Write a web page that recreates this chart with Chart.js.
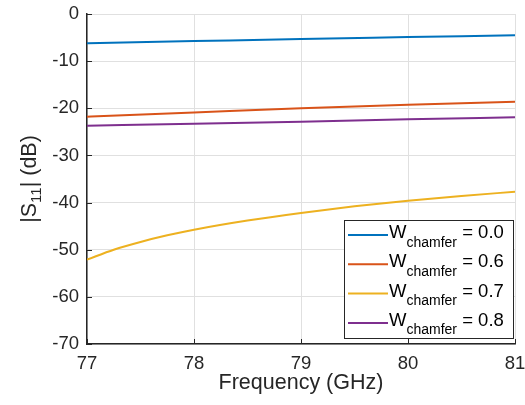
<!DOCTYPE html>
<html>
<head>
    <meta charset="UTF-8">
    <title>S11 vs frequency</title>
    <script src="https://cdn.jsdelivr.net/npm/chart.js"></script>
    <style>
        html, body { margin: 0; padding: 0; background: #fff; }
    </style>
</head>
<body>
<div style="width: 525px; height: 405px;">
    <canvas id="myChart"></canvas>
</div>

<script>
    // frequency points (GHz)
    const freqCoarse = [77, 78, 79, 80, 81];
    const freqFine = [77, 77.25, 77.5, 77.75, 78, 78.5, 79, 79.5, 80, 80.5, 81];

    // |S11| in dB
    const s11_w00 = [-6.2, -5.75, -5.3, -4.9, -4.5];
    const s11_w06 = [-21.8, -20.9, -20.0, -19.25, -18.6];
    const s11_w07 = [-52.1, -50.0, -48.35, -46.95, -45.75, -43.8, -42.2, -40.8, -39.6, -38.6, -37.7];
    const s11_w08 = [-23.7, -23.3, -22.85, -22.35, -21.9];

    const chamferValues = ['0.0', '0.6', '0.7', '0.8'];
    const colors = ['#0072BD', '#D95319', '#EDB120', '#7E2F8E'];

    const xTicks = [77, 78, 79, 80, 81];
    const yTicks = [-70, -60, -50, -40, -30, -20, -10, 0];

    const FONT = "'Liberation Sans', Arial, Helvetica, sans-serif";
    const AXIS = '#262626';

    function pts(xs, ys) {
        return xs.map((x, i) => ({x: x, y: ys[i]}));
    }

    const seriesX = [freqCoarse, freqCoarse, freqFine, freqCoarse];
    const seriesY = [s11_w00, s11_w06, s11_w07, s11_w08];

    const data = {
        datasets: seriesY.map((ys, i) => ({
            label: 'W_chamfer = ' + chamferValues[i],
            data: pts(seriesX[i], ys),
            borderColor: colors[i],
            backgroundColor: colors[i],
            borderWidth: 2,
            pointRadius: 0,
            cubicInterpolationMode: 'monotone',
            fill: false
        }))
    };

    // inward ticks, y title with subscript, MATLAB-like legend
    const overlay = {
        id: 'overlay',
        afterDraw(chart) {
            const ctx = chart.ctx;
            const a = chart.chartArea;
            const xs = chart.scales.x, ys = chart.scales.y;
            ctx.save();

            ctx.strokeStyle = AXIS;
            ctx.lineWidth = 1;
            ctx.beginPath();
            yTicks.forEach(v => {
                const py = Math.round(ys.getPixelForValue(v)) + 0.5;
                ctx.moveTo(a.left, py); ctx.lineTo(a.left + 5, py);
            });
            xTicks.forEach(v => {
                const px = Math.round(xs.getPixelForValue(v)) + 0.5;
                ctx.moveTo(px, a.bottom); ctx.lineTo(px, a.bottom - 5);
            });
            ctx.stroke();

            // y axis title: |S11| (dB)
            ctx.fillStyle = AXIS;
            ctx.textBaseline = 'alphabetic';
            ctx.textAlign = 'left';
            const big = '21.5px ' + FONT, small = '15px ' + FONT;
            ctx.font = big;
            const w1 = ctx.measureText('|S').width;
            const w3 = ctx.measureText('| (dB)').width;
            ctx.font = small;
            const w2 = ctx.measureText('11').width;
            const total = w1 + w2 + w3;
            ctx.translate(36, (a.top + a.bottom) / 2);
            ctx.rotate(-Math.PI / 2);
            let cx = -total / 2;
            ctx.font = big;
            ctx.fillText('|S', cx, 0); cx += w1;
            ctx.font = small;
            ctx.fillText('11', cx, 5); cx += w2;
            ctx.font = big;
            ctx.fillText('| (dB)', cx, 0);
            ctx.setTransform(1, 0, 0, 1, 0, 0);

            // legend box
            const bx = 344, by = 220, bw = 169, bh = 118;
            ctx.fillStyle = '#fff';
            ctx.fillRect(bx, by, bw, bh);
            ctx.strokeStyle = AXIS;
            ctx.lineWidth = 1;
            ctx.strokeRect(bx + 0.5, by + 0.5, bw, bh);
            const rowH = 29.3;
            chamferValues.forEach((v, i) => {
                const ry = by + 15 + i * rowH;
                ctx.strokeStyle = colors[i];
                ctx.lineWidth = 2;
                ctx.beginPath();
                ctx.moveTo(348, ry); ctx.lineTo(388, ry);
                ctx.stroke();
                ctx.fillStyle = '#000';
                let tx = 389;
                ctx.font = '18.5px ' + FONT;
                ctx.fillText('W', tx, ry + 3);
                tx += ctx.measureText('W').width;
                ctx.font = '14px ' + FONT;
                ctx.fillText('chamfer', tx, ry + 11.5);
                tx += ctx.measureText('chamfer').width;
                ctx.font = '18.5px ' + FONT;
                ctx.fillText(' = ' + v, tx, ry + 3);
            });
            ctx.restore();
        }
    };

    const config = {
        type: 'line',
        data: data,
        options: {
            responsive: true,
            maintainAspectRatio: false,
            animation: false,
            layout: { padding: { top: 14, right: 10, left: 0, bottom: 0 } },
            plugins: {
                legend: { display: false },
                tooltip: { enabled: false }
            },
            scales: {
                x: {
                    type: 'linear',
                    min: 77,
                    max: 81,
                    afterBuildTicks: s => { s.ticks = xTicks.map(v => ({value: v})); },
                    afterFit: s => { s.height = 61; s.paddingLeft = 0; s.paddingRight = 0; },
                    grid: { color: '#e0e0e0', drawTicks: false },
                    border: { color: AXIS, width: 1.5 },
                    ticks: { color: AXIS, font: { family: FONT, size: 18.5 }, padding: 9, maxRotation: 0 },
                    title: { display: true, text: 'Frequency (GHz)', color: AXIS, font: { family: FONT, size: 21.5 }, padding: { top: 0, bottom: 9 } }
                },
                y: {
                    min: -70,
                    max: 0,
                    afterBuildTicks: s => { s.ticks = yTicks.map(v => ({value: v})); },
                    afterFit: s => { s.width = 87; s.paddingTop = 0; s.paddingBottom = 0; },
                    grid: { color: '#e0e0e0', drawTicks: false },
                    border: { color: AXIS, width: 1.5 },
                    ticks: { color: AXIS, font: { family: FONT, size: 18.5 }, padding: 8 }
                }
            }
        },
        plugins: [overlay]
    };

    const chart = new Chart(
        document.getElementById('myChart'),
        config
    );
</script>
</body>
</html>
